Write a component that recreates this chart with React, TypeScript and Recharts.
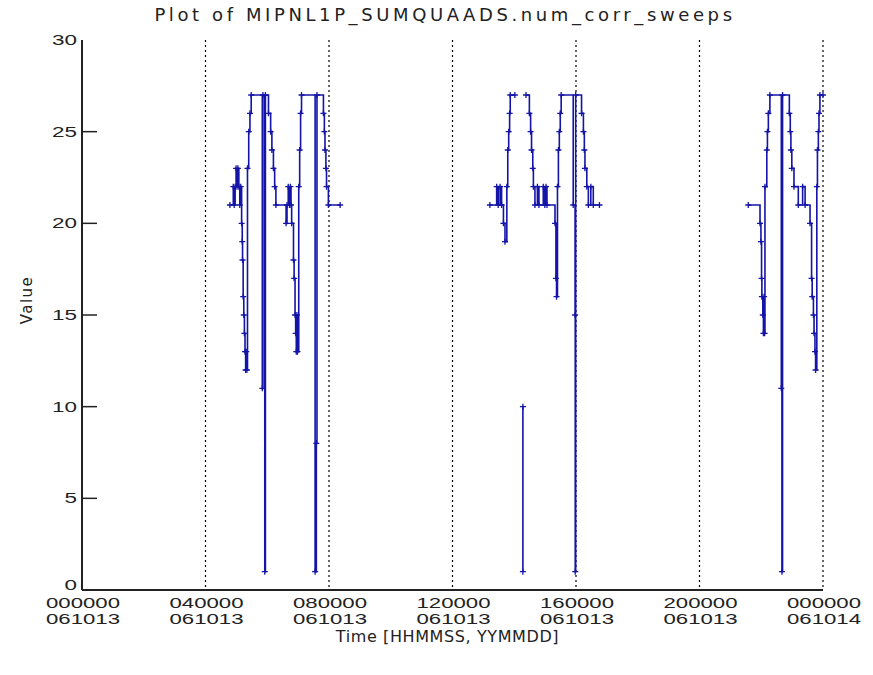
import React from 'react';
import { LineChart, Line, XAxis, YAxis, CartesianGrid } from 'recharts';

const xTicks = [0, 4, 8, 12, 16, 20, 24];
const timeLabels = ['000000', '040000', '080000', '120000', '160000', '200000', '000000'];
const dateLabels = ['061013', '061013', '061013', '061013', '061013', '061013', '061014'];
const yTicks = [0, 5, 10, 15, 20, 25, 30];

// hours since 061013 000000 / num_corr_sweeps
const pass1Hours = [
  4.79, 4.9, 4.93, 4.96, 4.99, 5.02, 5.05, 5.08, 5.11, 5.14, 5.17, 5.19, 5.2, 5.22, 5.24, 5.26,
  5.28, 5.3, 5.32, 5.34, 5.36, 5.4, 5.44, 5.48, 5.84, 5.86, 5.92, 5.94, 6.04, 6.11, 6.15, 6.2,
  6.24, 6.28, 6.61, 6.64, 6.68, 6.72, 6.75, 6.77, 6.79, 6.85, 6.87, 6.9, 6.92, 6.94, 6.96, 6.98,
  7.02, 7.05, 7.08, 7.11, 7.55, 7.59, 7.61, 7.82, 7.85, 7.87, 7.9, 7.92, 7.98, 8.36,
];
const pass1Sweeps = [
  21, 22, 21, 22, 23, 22, 23, 22, 21, 22, 20, 19, 18, 16, 15, 14,
  13, 12, 13, 12, 23, 25, 26, 27, 11, 27, 1, 27, 26, 25, 24, 23,
  22, 21, 20, 21, 22, 21, 22, 21, 20, 18, 17, 15, 14, 13, 15, 13,
  22, 24, 26, 27, 1, 8, 27, 26, 25, 24, 23, 22, 21, 21,
];

const pass2aHours = [13.21, 13.43, 13.48, 13.54, 13.59, 13.65, 13.7, 13.76, 13.79, 13.82, 13.85, 13.87, 14.02];
const pass2aSweeps = [21, 22, 21, 22, 21, 20, 19, 22, 24, 25, 26, 27, 27];

const pass2SpikeHours = [14.28, 14.28];
const pass2SpikeSweeps = [10, 1];

const pass2bHours = [
  14.38, 14.49, 14.53, 14.56, 14.6, 14.62, 14.67, 14.75, 14.8, 14.94, 14.99, 15.03, 15.06, 15.32,
  15.35, 15.37, 15.4, 15.43, 15.46, 15.49, 15.52, 15.91, 15.97, 15.975, 15.99, 16.18, 16.24, 16.27,
  16.29, 16.35, 16.4, 16.48, 16.56, 16.76,
];
const pass2bSweeps = [
  27, 26, 25, 24, 23, 22, 21, 22, 21, 22, 21, 22, 21, 20,
  17, 16, 22, 24, 25, 26, 27, 21, 15, 1, 27, 26, 25, 24,
  23, 22, 21, 22, 21, 21,
];

const pass3Hours = [
  21.58, 21.96, 21.99, 22.01, 22.02, 22.05, 22.07, 22.09, 22.11, 22.12, 22.18, 22.2, 22.23, 22.28,
  22.65, 22.67, 22.69, 22.91, 22.94, 22.96, 22.99, 23.06, 23.2, 23.34, 23.42, 23.58, 23.63, 23.65,
  23.69, 23.71, 23.74, 23.76, 23.8, 23.82, 23.85, 23.87, 23.9, 24.0,
];
const pass3Sweeps = [
  21, 20, 19, 17, 16, 15, 14, 16, 14, 22, 24, 25, 26, 27,
  11, 1, 27, 26, 25, 24, 23, 22, 21, 22, 21, 20, 17, 16,
  15, 14, 13, 12, 22, 24, 25, 26, 27, 27,
];

type Pt = { h: number; v: number | null };

const segments: [number[], number[]][] = [
  [pass1Hours, pass1Sweeps],
  [pass2aHours, pass2aSweeps],
  [pass2SpikeHours, pass2SpikeSweeps],
  [pass2bHours, pass2bSweeps],
  [pass3Hours, pass3Sweeps],
];

const data: Pt[] = [];
segments.forEach(([hs, vs], i) => {
  if (i > 0) data.push({ h: hs[0], v: null });
  hs.forEach((h, j) => data.push({ h, v: vs[j] }));
});

const FONT = '"DejaVu Sans", Arial, sans-serif';
const TICK_FONT = '"Liberation Sans", Arial, sans-serif';
const INK = '#222';
const LINE = '#1414a8';

const PlusDot = (props: any) => {
  const { cx, cy, index, payload } = props;
  if (cx == null || cy == null || payload == null || payload.v == null) return <g key={`d${index}`} />;
  return (
    <path
      key={`d${index}`}
      d={`M${cx - 3},${cy}h6M${cx},${cy - 3}v6`}
      stroke={LINE}
      strokeWidth={1.3}
      fill="none"
    />
  );
};

const LeftTick = (props: any) => {
  const { x, y, payload } = props;
  const v = payload.value;
  const s = String(v);
  return (
    <g>
      <text
        x={x}
        y={y}
        dy={v === 0 ? 0 : 5}
        textAnchor="end"
        fontFamily={TICK_FONT}
        fontSize={15}
        textLength={12.5 * s.length}
        lengthAdjust="spacingAndGlyphs"
        fill={INK}
      >
        {s}
      </text>
      {v > 0 && v < 30 && <line x1={x + 5} x2={x + 20} y1={y} y2={y} stroke={INK} strokeWidth={1.5} />}
    </g>
  );
};

const RightTick = (props: any) => {
  const { x, y, payload } = props;
  const v = payload.value;
  if (v <= 0 || v >= 30) return <g />;
  return <line x1={x - 15} x2={x} y1={y} y2={y} stroke={INK} strokeWidth={1.5} />;
};

const TimeTick = (props: any) => {
  const { x, y, payload } = props;
  const i = xTicks.indexOf(payload.value);
  const common = {
    x: x + 1,
    textAnchor: 'middle' as const,
    fontFamily: TICK_FONT,
    fontSize: 14,
    textLength: 74,
    lengthAdjust: 'spacingAndGlyphs' as const,
    fill: INK,
  };
  return (
    <g>
      <text {...common} y={y + 18}>{timeLabels[i]}</text>
      <text {...common} y={y + 34}>{dateLabels[i]}</text>
    </g>
  );
};

export default function App() {
  return (
    <div style={{ position: 'absolute', left: 0, top: 0, width: 873, height: 675, background: '#fff' }}>
      <div
        style={{
          position: 'absolute',
          left: 0,
          width: 890,
          top: 4,
          textAlign: 'center',
          fontFamily: FONT,
          fontSize: 18,
          letterSpacing: 3.6,
          color: INK,
        }}
      >
        Plot of MIPNL1P_SUMQUAADS.num_corr_sweeps
      </div>
      <div
        style={{
          position: 'absolute',
          left: 27,
          top: 300,
          transform: 'translate(-50%, -50%) rotate(-90deg)',
          fontFamily: FONT,
          fontSize: 15,
          letterSpacing: 1.5,
          color: INK,
          whiteSpace: 'nowrap',
        }}
      >
        Value
      </div>
      <div
        style={{
          position: 'absolute',
          left: 0,
          width: 895,
          top: 629,
          textAlign: 'center',
          fontFamily: FONT,
          fontSize: 16,
          lineHeight: '16px',
          letterSpacing: 0.6,
          color: INK,
        }}
      >
        Time [HHMMSS, YYMMDD]
      </div>
      <LineChart width={873} height={675} data={data} margin={{ top: 40, right: 50, bottom: 25, left: 22 }}>
        <CartesianGrid horizontal={false} stroke="#000" strokeDasharray="2 3" strokeWidth={1.2} />
        <XAxis
          dataKey="h"
          type="number"
          domain={[0, 24]}
          ticks={xTicks}
          height={60}
          tickSize={0}
          tickMargin={0}
          tick={<TimeTick />}
          axisLine={{ stroke: INK, strokeWidth: 2 }}
          interval={0}
        />
        <XAxis
          xAxisId="top"
          orientation="top"
          type="number"
          domain={[0, 24]}
          ticks={xTicks}
          height={0}
          tick={false}
          tickLine={false}
          axisLine={{ stroke: INK, strokeWidth: 2 }}
        />
        <YAxis
          type="number"
          domain={[0, 30]}
          ticks={yTicks}
          width={60}
          tickSize={0}
          tickMargin={5}
          tick={<LeftTick />}
          axisLine={{ stroke: INK, strokeWidth: 2 }}
          interval={0}
        />
        <YAxis
          yAxisId="right"
          orientation="right"
          type="number"
          domain={[0, 30]}
          ticks={yTicks}
          width={0}
          tickSize={0}
          tickMargin={0}
          tick={<RightTick />}
          axisLine={{ stroke: INK, strokeWidth: 2 }}
          interval={0}
        />
        <Line
          type="stepAfter"
          dataKey="v"
          stroke={LINE}
          strokeWidth={1.6}
          dot={PlusDot}
          activeDot={false}
          connectNulls={false}
          isAnimationActive={false}
        />
      </LineChart>
    </div>
  );
}
